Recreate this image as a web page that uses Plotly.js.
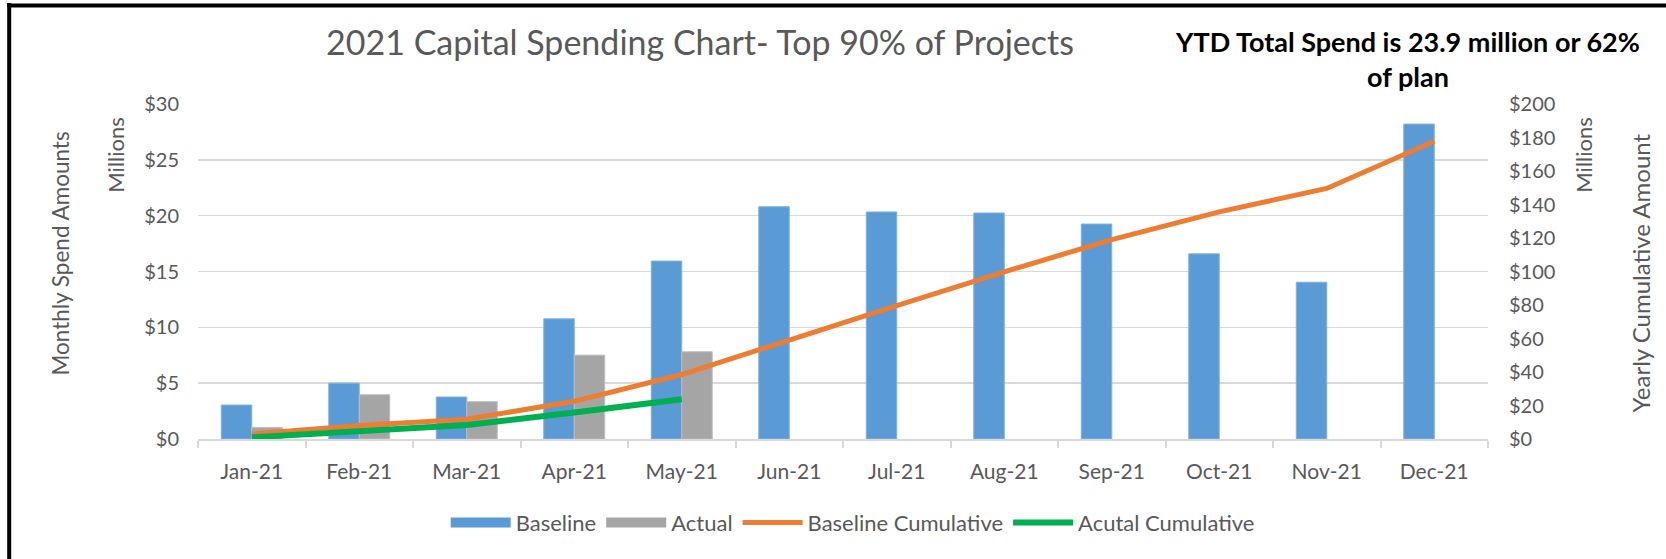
<!DOCTYPE html>
<html>
<head>
<meta charset="utf-8">
<script src="https://cdn.plot.ly/plotly-3.0.1.min.js"></script>
<style>
  html, body { margin: 0; padding: 0; background: #ffffff; }
  #chart { width: 1666px; height: 559px; }
</style>
</head>
<body>
<div id="chart"></div>
<script>
// Monthly categories
const months = ['Jan-21', 'Feb-21', 'Mar-21', 'Apr-21', 'May-21', 'Jun-21',
                'Jul-21', 'Aug-21', 'Sep-21', 'Oct-21', 'Nov-21', 'Dec-21'];

// Monthly spend, $ millions (left axis)
const baselineMonthly = [3.04, 5.0, 3.76, 10.76, 15.93, 20.8, 20.33, 20.24, 19.25, 16.58, 14.04, 28.2];
const actualMonthly = [1.04, 3.96, 3.34, 7.51, 7.81];

// Cumulative spend, $ millions (right axis)
const baselineCumulative = [3.0, 8.0, 11.8, 22.5, 38.5, 59.3, 79.6, 99.8, 119.0, 135.6, 149.6, 177.8];
const actualCumulative = [1.0, 5.0, 8.3, 15.8, 23.7];

const FONT = 'Lato, "Open Sans", sans-serif';
const GREY_TEXT = '#595959';
const GRID = '#d9d9d9';
const BLUE = '#5b9bd5';
const GREY_BAR = '#a5a5a5';

// legend-only entry so the bar swatches come out as wide blocks like Excel's
const swatch = (name, color) => ({
    x: [null],
    y: [null],
    name: name,
    type: 'scatter',
    mode: 'lines',
    line: { color: color, width: 14 },
    hoverinfo: 'skip'
});

const traces = [
    swatch('Baseline', BLUE),
    swatch('Actual', GREY_BAR),
    {
        x: months,
        y: baselineMonthly,
        name: 'Baseline',
        type: 'bar',
        showlegend: false,
        marker: { color: BLUE, line: { color: '#7fb0df', width: 1 } }
    },
    {
        x: months.slice(0, actualMonthly.length),
        y: actualMonthly,
        name: 'Actual',
        type: 'bar',
        showlegend: false,
        marker: { color: GREY_BAR, line: { color: '#bdbdbd', width: 1 } }
    },
    {
        x: months,
        y: baselineCumulative,
        name: 'Baseline Cumulative',
        type: 'scatter',
        mode: 'lines',
        yaxis: 'y2',
        line: { color: '#ed7d31', width: 5 }
    },
    {
        x: months.slice(0, actualCumulative.length),
        y: actualCumulative,
        name: 'Acutal Cumulative',
        type: 'scatter',
        mode: 'lines',
        yaxis: 'y2',
        line: { color: '#00b050', width: 6 }
    }
];

// plot area in pixels: x 198..1488, y 104..439
const px = x => (x - 198.3) / 1290;
const py = y => (439.3 - y) / 335.3;

const axisTitle = (text, x, y, size) => ({
    text: text,
    xref: 'paper', yref: 'paper',
    x: px(x), y: py(y),
    xanchor: 'center', yanchor: 'middle',
    textangle: -90,
    showarrow: false,
    font: { family: FONT, size: size, color: GREY_TEXT }
});

const layout = {
    width: 1666,
    height: 559,
    margin: { l: 198, r: 178, t: 104, b: 120 },
    paper_bgcolor: '#ffffff',
    plot_bgcolor: '#ffffff',
    font: { family: FONT, size: 20, color: GREY_TEXT },
    title: {
        text: '2021 Capital Spending Chart- Top 90% of Projects',
        xref: 'container', x: 700 / 1666, xanchor: 'center',
        yref: 'container', y: 1 - 43 / 559, yanchor: 'middle',
        font: { family: FONT, size: 34, color: GREY_TEXT }
    },
    barmode: 'group',
    bargap: 0.433,
    bargroupgap: 0,
    xaxis: {
        type: 'category',
        showgrid: false,
        showline: true,
        linecolor: GRID,
        linewidth: 2,
        ticks: 'outside',
        tickson: 'boundaries',
        ticklen: 7,
        tickcolor: GRID,
        tickwidth: 2,
        ticklabelstandoff: 13,
        tickfont: { family: FONT, size: 21, color: GREY_TEXT },
        fixedrange: true
    },
    yaxis: {
        range: [0, 30],
        dtick: 5,
        tickprefix: '$',
        showgrid: true,
        gridcolor: GRID,
        gridwidth: 1.5,
        zeroline: false,
        showline: false,
        ticks: '',
        ticklabelstandoff: 18,
        tickfont: { family: FONT, size: 20, color: GREY_TEXT },
        fixedrange: true
    },
    yaxis2: {
        range: [0, 200],
        dtick: 20,
        tickprefix: '$',
        overlaying: 'y',
        side: 'right',
        showgrid: false,
        zeroline: false,
        showline: false,
        ticks: '',
        ticklabelstandoff: 20,
        tickfont: { family: FONT, size: 20, color: GREY_TEXT },
        fixedrange: true
    },
    showlegend: true,
    legend: {
        orientation: 'h',
        xref: 'paper', x: px(853), xanchor: 'center',
        yref: 'paper', y: py(523), yanchor: 'middle',
        font: { family: FONT, size: 22, color: GREY_TEXT },
        itemwidth: 60,
        traceorder: 'normal'
    },
    annotations: [
        axisTitle('Monthly Spend Amounts', 61, 254, 22.5),
        axisTitle('Millions', 116, 155, 22),
        axisTitle('Millions', 1584, 155, 22),
        axisTitle('Yearly Cumulative Amount', 1641, 273, 24),
        {
            text: '<b>YTD Total Spend is 23.9 million or 62%<br>of plan</b>',
            xref: 'paper', yref: 'paper',
            x: px(1408), y: py(59),
            xanchor: 'center', yanchor: 'middle',
            align: 'center',
            showarrow: false,
            font: { family: FONT, size: 27, color: '#000000' }
        }
    ],
    shapes: [
        // chart frame, left and top edges
        { type: 'line', xref: 'paper', yref: 'paper', x0: px(9.5), x1: px(9.5), y0: py(3), y1: py(600), line: { color: '#000000', width: 4 } },
        { type: 'line', xref: 'paper', yref: 'paper', x0: px(7.5), x1: px(1700), y0: py(5.3), y1: py(5.3), line: { color: '#000000', width: 4 } }
    ],
    hovermode: false
};

const config = {
    responsive: false,
    displayModeBar: false,
    staticPlot: true
};

Plotly.newPlot('chart', traces, layout, config);
</script>
</body>
</html>
